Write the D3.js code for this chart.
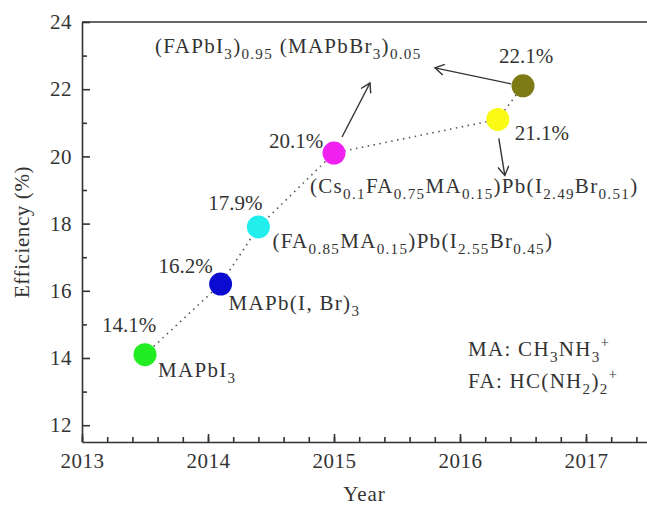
<!DOCTYPE html>
<html>
<head>
<meta charset="utf-8">
<script src="https://cdn.jsdelivr.net/npm/d3@7"></script>
<style>
  html, body { margin: 0; padding: 0; background: #fff; }
  svg { display: block; }
  text { font-family: "Liberation Serif", "Times New Roman", serif; fill: #333; }
</style>
</head>
<body>
<svg id="chart" width="647" height="508"></svg>
<script>
// Record perovskite solar cell efficiencies by year
const years = [2013.5, 2014.1, 2014.4, 2015.0, 2016.3, 2016.5];
const efficiencies = [14.1, 16.2, 17.9, 20.1, 21.1, 22.1];
const pointColors = ["#22ec22", "#0b0bd2", "#22eeee", "#f020f0", "#fafa14", "#7c7a14"];

// Composition labels (markup: _{..} subscript, ^{..} superscript)
const compositions = [
  "MAPbI_{3}",
  "MAPb(I, Br)_{3}",
  "(FA_{0.85}MA_{0.15})Pb(I_{2.55}Br_{0.45})",
  "(Cs_{0.1}FA_{0.75}MA_{0.15})Pb(I_{2.49}Br_{0.51})",
  "(FAPbI_{3})_{0.95} (MAPbBr_{3})_{0.05}"
];
const notes = ["MA: CH_{3}NH_{3}^{+}", "FA: HC(NH_{2})_{2}^{+}"];

const xTicks = [2013, 2014, 2015, 2016, 2017];
const yTicks = [12, 14, 16, 18, 20, 22, 24];
const xMinorTicks = d3.range(2013, 2017.5, 0.2);
const yMinorTicks = [13, 15, 17, 19, 21, 23];

const svg = d3.select("#chart");
const margin = { left: 82, top: 22, right: -2, bottom: 66 };
const W = 647, H = 508;
const FS = 21;

const x = d3.scaleLinear().domain([2013, 2017.5]).range([margin.left, W - margin.right]);
const y = d3.scaleLinear().domain([11.5, 24]).range([H - margin.bottom, margin.top]);

function rich(sel, str, size) {
  const re = /([_^])\{([^}]*)\}|([^_^]+)/g;
  let m, shift = 0;
  while ((m = re.exec(str))) {
    if (m[3] !== undefined) {
      sel.append("tspan").attr("dy", -shift).attr("font-size", size).text(m[3]);
      shift = 0;
    } else {
      const s = m[1] === "_" ? size * 0.3 : -size * 0.45;
      sel.append("tspan").attr("dy", s - shift).attr("font-size", size * 0.72).text(m[2]);
      shift = s;
    }
  }
}

// Axes
const axisColor = "#333";
svg.append("g").attr("transform", `translate(0,${y.range()[0]})`)
  .call(d3.axisBottom(x).tickValues(xTicks).tickFormat(d3.format("d"))
    .tickSizeInner(-8).tickSizeOuter(0).tickPadding(11));
svg.append("g").attr("transform", `translate(0,${y.range()[0]})`)
  .call(d3.axisBottom(x).tickValues(xMinorTicks).tickFormat("").tickSizeInner(-5).tickSizeOuter(0))
  .call(g => g.select(".domain").remove());

svg.append("g").attr("transform", `translate(${x.range()[0]},0)`)
  .call(d3.axisLeft(y).tickValues(yTicks).tickSizeInner(-8).tickSizeOuter(0).tickPadding(10));
svg.append("g").attr("transform", `translate(${x.range()[0]},0)`)
  .call(d3.axisLeft(y).tickValues(yMinorTicks).tickFormat("").tickSizeInner(-5).tickSizeOuter(0))
  .call(g => g.select(".domain").remove());

svg.selectAll(".domain, .tick line").attr("stroke", axisColor).attr("stroke-width", 1.6);
svg.selectAll(".tick text").attr("font-size", FS).attr("fill", "#333")
  .style("font-family", '"Liberation Serif", serif').style("letter-spacing", "0.5px");

// Top frame
svg.append("line")
  .attr("x1", x.range()[0]).attr("x2", x.range()[1])
  .attr("y1", y.range()[1]).attr("y2", y.range()[1])
  .attr("stroke", axisColor).attr("stroke-width", 1.6);

// Axis titles
svg.append("text").attr("x", (x.range()[0] + 647) / 2).attr("y", 501)
  .attr("text-anchor", "middle").attr("font-size", FS).style("letter-spacing", "1px").text("Year");
svg.append("text")
  .attr("transform", `translate(29,${(y.range()[0] + y.range()[1]) / 2}) rotate(-90)`)
  .attr("text-anchor", "middle").attr("font-size", FS).style("letter-spacing", "0.6px")
  .text("Efficiency (%)");

// Connecting dotted trend line
const pts = years.map((yr, i) => [x(yr), y(efficiencies[i])]);
svg.append("path").attr("d", d3.line()(pts))
  .attr("fill", "none").attr("stroke", "#555").attr("stroke-width", 1.6)
  .attr("stroke-dasharray", "1.5,4.5");

// Points
svg.selectAll("circle.pt").data(pts).join("circle").attr("class", "pt")
  .attr("cx", d => d[0]).attr("cy", d => d[1]).attr("r", 11.5)
  .attr("fill", (d, i) => pointColors[i]);

// Efficiency labels: [dx, dy, anchor]
const valueOffsets = [[-16, -23, "middle"], [-35, -11, "middle"], [-23, -17, "middle"],
                      [-38, -5, "middle"], [17, 21, "start"], [3, -23, "middle"]];
efficiencies.forEach((e, i) => {
  const [dx, dy, anchor] = valueOffsets[i];
  svg.append("text").attr("x", pts[i][0] + dx).attr("y", pts[i][1] + dy)
    .attr("text-anchor", anchor).attr("font-size", FS).text(e.toFixed(1) + "%");
});

// Composition labels: [point index, dx, dy]
const compOffsets = [[0, 13, 22], [1, 8, 26], [2, 14, 21], [3, -24, 40], [3, -179, -100]];
compositions.forEach((c, i) => {
  const [pi, dx, dy] = compOffsets[i];
  const t = svg.append("text").attr("x", pts[pi][0] + dx).attr("y", pts[pi][1] + dy)
    .style("letter-spacing", "1.3px");
  rich(t, c, FS);
});

// Ion definitions
notes.forEach((n, i) => {
  const t = svg.append("text").attr("x", 468).attr("y", 356 + i * 32)
    .style("letter-spacing", "1.3px");
  rich(t, n, FS);
});

// Arrows
svg.append("defs").append("marker")
  .attr("id", "head").attr("viewBox", "-10 -6 12 12")
  .attr("markerWidth", 12).attr("markerHeight", 12).attr("refX", 0).attr("refY", 0)
  .attr("orient", "auto").attr("markerUnits", "userSpaceOnUse")
  .append("path").attr("d", "M-9,-5.5 L0,0 L-9,5.5")
  .attr("fill", "none").attr("stroke", "#333").attr("stroke-width", 1.4);

// [point index, x1, y1, x2, y2] offsets from the point
const arrows = [[3, 8, -16, 36, -70], [5, -12, -2, -88, -18], [4, 1, 19, 7, 56]];
arrows.forEach(([pi, a, b, c, d]) => {
  svg.append("line")
    .attr("x1", pts[pi][0] + a).attr("y1", pts[pi][1] + b)
    .attr("x2", pts[pi][0] + c).attr("y2", pts[pi][1] + d)
    .attr("stroke", "#333").attr("stroke-width", 1.4).attr("marker-end", "url(#head)");
});
</script>
</body>
</html>
